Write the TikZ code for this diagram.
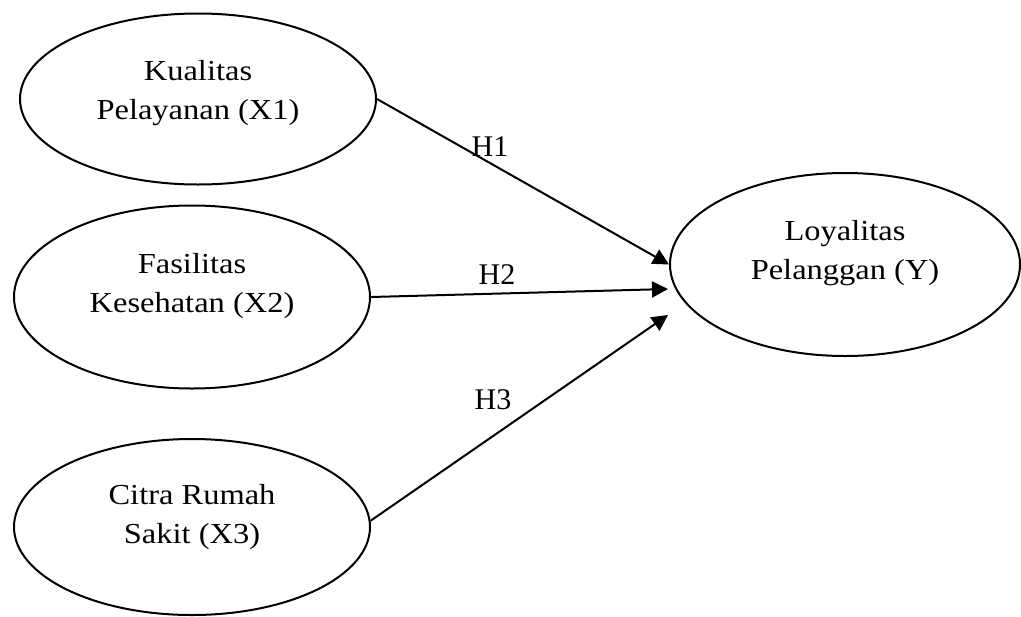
\documentclass[tikz,border=0pt]{standalone}
\usepackage{fontspec}
\setmainfont{Liberation Serif}
\newfontfamily\widefont[FakeStretch=1.12]{Liberation Serif}
\usepackage{tikz}
\usetikzlibrary{shapes,arrows.meta}

\begin{document}
\begin{tikzpicture}[x=0.5pt, y=-0.5pt, font=\fontsize{15}{18}\selectfont,
		latent/.style={ellipse, draw, line width=1pt, inner sep=0pt, minimum width=178pt},
		caption/.style={align=center, font=\widefont\fontsize{14.5}{19.5}\selectfont},
		hypo/.style={line width=1pt, -{Triangle[length=8pt, width=8pt]}}]
	\useasboundingbox (0,0) rectangle (1021,616);

	\foreach \name/\cx/\cy/\hgt/\lift/\txt in {x1/198/99/171/3/{Kualitas\\Pelayanan (X1)}, x2/192/297/183/5.5/{Fasilitas\\Kesehatan (X2)}, x3/192/527/176/5/{Citra Rumah\\Sakit (X3)}} {
		\node[latent, minimum height=\hgt*0.5pt, label={[caption, yshift=\lift pt]center:{\txt}}] (\name) at (\cx,\cy) {};
	}
	\node[latent, minimum width=175pt, minimum height=91.5pt, label={[caption, yshift=5.5pt]center:{Loyalitas\\Pelanggan (Y)}}] (y) at (845,264.5) {};

	\coordinate (y2) at (668,289);
	\coordinate (y3) at (668,315);

	\draw[hypo] (x1.east) -- (y.west);
	\draw[hypo] (x2.east) -- (y2);
	\draw[hypo] (x3.2) -- (y3);

	\node (h1) at (490,147) {H1};
	\node (h2) at (497,275) {H2};
	\node (h3) at (493,400) {H3};

\end{tikzpicture}
\end{document}
